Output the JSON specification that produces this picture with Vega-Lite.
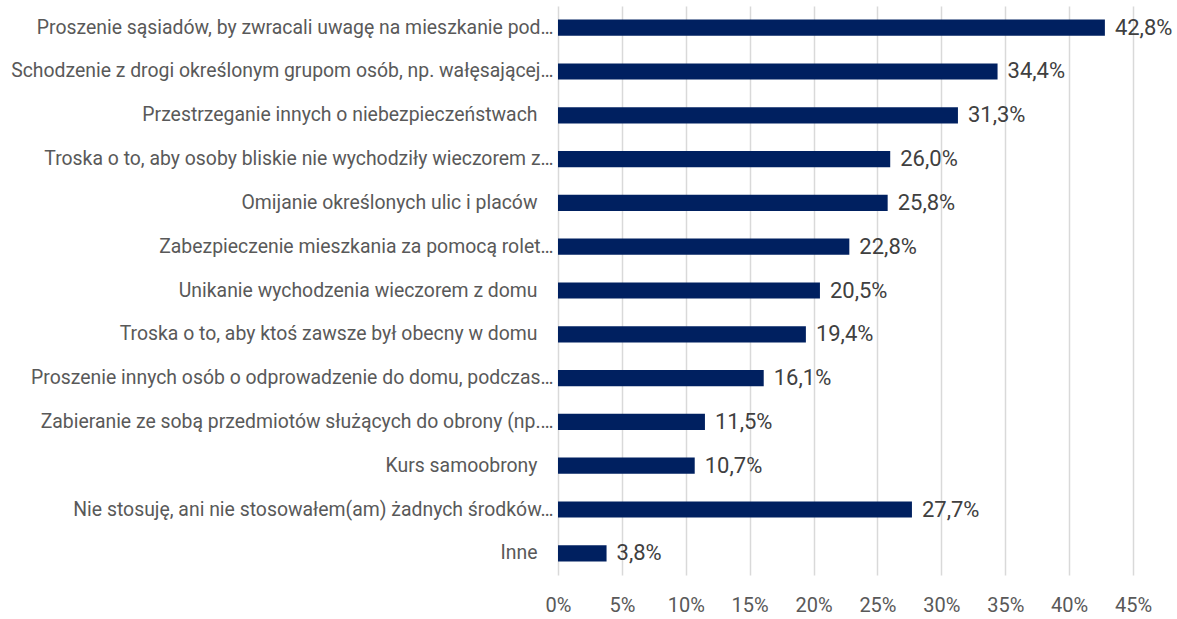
{
  "$schema": "https://vega.github.io/schema/vega-lite/v6.json",
  "autosize": {"type": "none"},
  "padding": {"left": 558, "top": 6, "right": 44, "bottom": 44},
  "width": 575,
  "height": 569,
  "background": "white",
  "config": {
    "locale": {"number": {"decimal": ",", "thousands": " ", "grouping": [3], "currency": ["", " zł"]}},
    "view": {"stroke": null},
    "font": "Roboto"
  },
  "data": {
    "values": [
      {"kategoria": "Proszenie sąsiadów, by zwracali uwagę na mieszkanie pod…", "wartosc": 0.428},
      {"kategoria": "Schodzenie z drogi określonym grupom osób, np. wałęsającej…", "wartosc": 0.344},
      {"kategoria": "Przestrzeganie innych o niebezpieczeństwach", "wartosc": 0.313},
      {"kategoria": "Troska o to, aby osoby bliskie nie wychodziły wieczorem z…", "wartosc": 0.260},
      {"kategoria": "Omijanie określonych ulic i placów", "wartosc": 0.258},
      {"kategoria": "Zabezpieczenie mieszkania za pomocą rolet…", "wartosc": 0.228},
      {"kategoria": "Unikanie wychodzenia wieczorem z domu", "wartosc": 0.205},
      {"kategoria": "Troska o to, aby ktoś zawsze był obecny w domu", "wartosc": 0.194},
      {"kategoria": "Proszenie innych osób o odprowadzenie do domu, podczas…", "wartosc": 0.161},
      {"kategoria": "Zabieranie ze sobą przedmiotów służących do obrony (np.…", "wartosc": 0.115},
      {"kategoria": "Kurs samoobrony", "wartosc": 0.107},
      {"kategoria": "Nie stosuję, ani nie stosowałem(am) żadnych środków…", "wartosc": 0.277},
      {"kategoria": "Inne", "wartosc": 0.038}
    ]
  },
  "encoding": {
    "y": {
      "field": "kategoria",
      "type": "nominal",
      "sort": null,
      "scale": {"paddingInner": 0.63, "paddingOuter": 0.31},
      "axis": {
        "title": null,
        "domain": false,
        "ticks": false,
        "labelPadding": {"condition": {"test": "slice(datum.value, -1) != '…'", "value": 21}, "value": 5},
        "labelLimit": 700,
        "labelFontSize": 19.4,
        "labelColor": "#595959",
        "labelFont": "Roboto"
      }
    },
    "x": {
      "field": "wartosc",
      "type": "quantitative",
      "scale": {"domain": [0, 0.45], "nice": false},
      "axis": {
        "title": null,
        "format": ".0%",
        "values": [0, 0.05, 0.1, 0.15, 0.2, 0.25, 0.3, 0.35, 0.4, 0.45],
        "domain": false,
        "ticks": false,
        "grid": true,
        "gridColor": "#d9d9d9",
        "gridWidth": 1.5,
        "labelFlush": false,
        "labelOverlap": false,
        "labelPadding": 20,
        "labelFontSize": 20,
        "labelColor": "#595959",
        "labelFont": "Roboto"
      }
    }
  },
  "layer": [
    {"mark": {"type": "bar", "color": "#002060"}},
    {
      "mark": {"type": "text", "align": "left", "baseline": "middle", "dx": 10, "fontSize": 22, "color": "#404040", "font": "Roboto"},
      "encoding": {"text": {"field": "wartosc", "type": "quantitative", "format": ".1%"}}
    }
  ]
}
